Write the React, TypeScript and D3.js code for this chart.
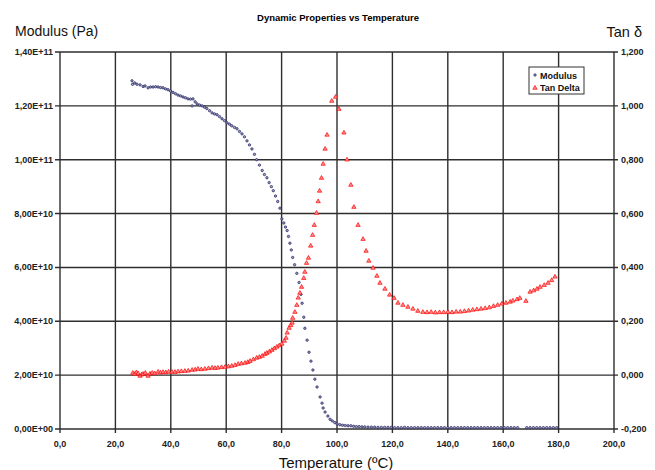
import React, { useEffect, useRef } from 'react';
import * as d3 from 'd3';

// temperature (°C), storage modulus (x 1e10 Pa)
const modulusData: [number, number][] = [
  [26.0, 12.93], [26.2, 12.8], [27.0, 12.85], [27.8, 12.8], [28.9, 12.78], [30.0, 12.72],
  [30.7, 12.74], [31.8, 12.67], [32.7, 12.7], [33.6, 12.7], [34.5, 12.71], [35.4, 12.7],
  [36.3, 12.68], [37.2, 12.67], [38.1, 12.63], [39.0, 12.6], [39.9, 12.55], [40.8, 12.5],
  [41.7, 12.45], [42.6, 12.4], [43.5, 12.37], [44.4, 12.33], [45.3, 12.3], [46.2, 12.26],
  [47.1, 12.25], [47.7, 12.0], [48.0, 12.26], [48.8, 12.15], [49.5, 12.07], [50.4, 12.03],
  [51.3, 12.0], [52.2, 11.95], [53.0, 11.9], [54.0, 11.82], [54.9, 11.74], [55.8, 11.7],
  [56.7, 11.67], [57.6, 11.6], [58.5, 11.52], [59.4, 11.45], [60.3, 11.37], [61.2, 11.32],
  [62.0, 11.26], [63.0, 11.2], [63.9, 11.15], [64.8, 11.05], [65.7, 10.96], [66.6, 10.85],
  [67.5, 10.7], [68.4, 10.55], [69.3, 10.4], [70.2, 10.2], [71.0, 10.0], [72.0, 9.8],
  [73.0, 9.6], [73.8, 9.45], [74.7, 9.33], [75.5, 9.15], [76.3, 9.0], [77.0, 8.85],
  [77.8, 8.65], [78.6, 8.45], [79.4, 8.2], [80.1, 7.8], [80.8, 7.65], [81.4, 7.5],
  [82.0, 7.37], [82.5, 7.15], [83.0, 6.9], [83.5, 6.65], [84.0, 6.37], [84.7, 6.1],
  [85.5, 5.78], [86.3, 5.44], [87.0, 5.0], [87.4, 4.67], [88.0, 4.15], [88.4, 3.74],
  [89.2, 3.3], [89.9, 2.85], [90.6, 2.52], [91.3, 2.19], [92.0, 1.85], [92.8, 1.56],
  [93.9, 1.19], [94.6, 0.96], [95.0, 0.78], [95.7, 0.63], [96.7, 0.48], [97.5, 0.36],
  [98.3, 0.3], [99.2, 0.24], [100.0, 0.19], [101.0, 0.16], [102.0, 0.14], [103.0, 0.13],
  [104.0, 0.12], [105.0, 0.12], [106.0, 0.1], [107.0, 0.09], [108.0, 0.09], [109.0, 0.08],
  [110.0, 0.08], [111.2, 0.07], [112.4, 0.07], [113.6, 0.07], [114.8, 0.06], [116.0, 0.06],
  [117.2, 0.06], [118.4, 0.06], [119.6, 0.06], [120.8, 0.05], [122.0, 0.05], [123.2, 0.05],
  [124.4, 0.06], [125.6, 0.05], [126.8, 0.05], [128.0, 0.05], [129.2, 0.05], [130.4, 0.05],
  [131.6, 0.05], [132.8, 0.05], [134.0, 0.05], [135.2, 0.05], [136.4, 0.05], [137.6, 0.05],
  [138.8, 0.05], [140.0, 0.05], [141.2, 0.05], [142.4, 0.05], [143.6, 0.05], [144.8, 0.05],
  [146.0, 0.05], [147.2, 0.05], [148.4, 0.05], [149.6, 0.05], [150.8, 0.05], [152.0, 0.05],
  [153.2, 0.05], [154.4, 0.05], [155.6, 0.05], [156.8, 0.05], [158.0, 0.05], [159.2, 0.05],
  [160.4, 0.05], [161.6, 0.05], [162.8, 0.05], [164.0, 0.05], [165.2, 0.05], [168.5, 0.05],
  [169.7, 0.05], [170.9, 0.05], [172.1, 0.05], [173.3, 0.05], [174.5, 0.05], [175.7, 0.05],
  [176.9, 0.05], [178.1, 0.05], [179.3, 0.05],
];

// temperature (°C), tan delta
const tanDeltaData: [number, number][] = [
  [26.3, 0.008], [27.0, 0.004], [27.6, 0.01], [28.2, 0.006], [28.9, -0.003], [29.5, 0.002],
  [30.0, 0.004], [30.8, 0.008], [31.8, -0.003], [32.5, 0.005], [33.3, 0.008], [34.2, 0.006],
  [35.4, 0.012], [36.3, 0.009], [37.2, 0.011], [38.2, 0.01], [39.2, 0.012], [40.4, 0.012],
  [41.5, 0.011], [42.6, 0.013], [43.8, 0.014], [45.1, 0.015], [46.3, 0.016], [47.7, 0.019],
  [48.8, 0.02], [49.8, 0.023], [51.0, 0.021], [52.3, 0.023], [53.6, 0.025], [54.9, 0.027],
  [56.0, 0.026], [57.0, 0.027], [58.3, 0.029], [59.6, 0.03], [60.8, 0.032], [62.0, 0.034],
  [63.2, 0.037], [64.3, 0.041], [65.5, 0.043], [66.8, 0.045], [67.8, 0.048], [68.6, 0.052],
  [69.8, 0.058], [71.0, 0.064], [72.0, 0.067], [73.0, 0.071], [74.0, 0.078], [74.7, 0.082],
  [75.6, 0.087], [76.5, 0.093], [77.4, 0.099], [78.3, 0.105], [79.2, 0.11], [80.1, 0.116],
  [81.0, 0.127], [81.6, 0.138], [82.0, 0.157], [82.7, 0.175], [83.3, 0.185], [83.8, 0.194],
  [84.0, 0.212], [84.8, 0.234], [85.5, 0.26], [86.0, 0.287], [86.6, 0.305], [87.2, 0.327],
  [88.0, 0.36], [88.4, 0.383], [89.0, 0.416], [89.7, 0.435], [90.5, 0.48], [91.2, 0.52],
  [91.8, 0.557], [92.6, 0.602], [93.2, 0.645], [93.7, 0.684], [94.4, 0.732], [95.0, 0.784],
  [95.7, 0.84], [96.4, 0.892], [98.1, 1.018], [99.5, 1.033], [100.7, 0.988], [102.5, 0.9],
  [103.6, 0.8], [105.0, 0.706], [106.1, 0.624], [107.6, 0.557], [109.4, 0.505], [110.5, 0.461],
  [111.5, 0.424], [113.0, 0.398], [114.4, 0.368], [115.5, 0.342], [117.3, 0.32], [119.0, 0.298],
  [120.6, 0.286], [122.0, 0.268], [123.8, 0.26], [125.6, 0.253], [127.4, 0.246], [129.2, 0.238],
  [131.0, 0.234], [132.5, 0.233], [134.0, 0.234], [135.5, 0.232], [137.0, 0.233], [138.5, 0.233],
  [140.0, 0.234], [141.5, 0.233], [143.0, 0.235], [144.5, 0.235], [146.0, 0.237], [147.5, 0.239],
  [149.0, 0.242], [150.5, 0.244], [152.0, 0.246], [153.5, 0.248], [155.0, 0.251], [156.5, 0.256],
  [158.0, 0.26], [159.5, 0.265], [161.0, 0.268], [162.5, 0.272], [163.5, 0.276], [165.0, 0.281],
  [166.0, 0.286], [168.2, 0.275], [169.7, 0.309], [171.0, 0.314], [172.2, 0.32], [173.3, 0.327],
  [174.8, 0.334], [176.2, 0.342], [177.5, 0.352], [178.7, 0.365],
];

const xTicks = [0, 20, 40, 60, 80, 100, 120, 140, 160, 180, 200];
const leftTicks = [0, 2, 4, 6, 8, 10, 12, 14]; // x 1e10
const leftTickLabels = ['0,00E+00', '2,00E+10', '4,00E+10', '6,00E+10', '8,00E+10', '1,00E+11', '1,20E+11', '1,40E+11'];
const rightTicks = [-0.2, 0, 0.2, 0.4, 0.6, 0.8, 1.0, 1.2];

const width = 655;
const height = 470;

const App = () => {
  const svgRef = useRef<SVGSVGElement>(null);

  useEffect(() => {
    if (!svgRef.current) return;
    const svg = d3.select(svgRef.current);
    svg.selectAll('*').remove();

    const margin = { top: 52, right: 41, bottom: 41, left: 60 };
    const w = width - margin.left - margin.right;
    const h = height - margin.top - margin.bottom;

    const x = d3.scaleLinear().domain([0, 200]).range([0, w]);
    const yL = d3.scaleLinear().domain([0, 14]).range([h, 0]);
    const yR = d3.scaleLinear().domain([-0.2, 1.2]).range([h, 0]);

    const g = svg.append('g').attr('transform', `translate(${margin.left},${margin.top})`);
    const grid = '#2e2e2e';
    const font = 'Liberation Sans, Arial, sans-serif';

    // gridlines (with outward tick stubs)
    g.append('g').selectAll('line').data(xTicks).join('line')
      .attr('x1', d => x(d)).attr('x2', d => x(d))
      .attr('y1', 0).attr('y2', h + 4)
      .attr('stroke', grid).attr('stroke-width', 1.4);
    g.append('g').selectAll('line').data(leftTicks).join('line')
      .attr('x1', -5).attr('x2', w + 4)
      .attr('y1', d => yL(d)).attr('y2', d => yL(d))
      .attr('stroke', grid).attr('stroke-width', 1.4);

    // tick labels
    g.append('g').selectAll('text').data(leftTicks).join('text')
      .attr('x', -7).attr('y', d => yL(d) + 3)
      .attr('text-anchor', 'end')
      .style('font', `bold 9px ${font}`).style('fill', '#222')
      .text((d, i) => leftTickLabels[i]);

    g.append('g').selectAll('text').data(rightTicks).join('text')
      .attr('x', w + 7).attr('y', d => yR(d) + 3)
      .style('font', `bold 9px ${font}`).style('fill', '#222')
      .text(d => d.toFixed(3).replace('.', ','));

    g.append('g').selectAll('text').data(xTicks).join('text')
      .attr('x', d => x(d)).attr('y', h + 18)
      .attr('text-anchor', 'middle')
      .style('font', `bold 9px ${font}`).style('fill', '#222')
      .text(d => d.toFixed(1).replace('.', ','));

    // modulus points
    g.append('g').selectAll('circle').data(modulusData).join('circle')
      .attr('cx', d => x(d[0])).attr('cy', d => yL(d[1]))
      .attr('r', 1.2)
      .attr('fill', '#a0a0c4').attr('stroke', '#1c1c5a').attr('stroke-width', 0.7);

    // tan delta points
    const tri = d3.symbol().type(d3.symbolTriangle).size(8);
    g.append('g').selectAll('path').data(tanDeltaData).join('path')
      .attr('d', tri)
      .attr('transform', d => `translate(${x(d[0])},${yR(d[1])})`)
      .attr('fill', '#ff9090').attr('stroke', '#ff0000').attr('stroke-width', 0.7);

    // titles
    svg.append('text').attr('x', 338).attr('y', 21).attr('text-anchor', 'middle')
      .style('font', `bold 9.5px ${font}`).style('fill', '#000')
      .text('Dynamic Properties vs Temperature');
    svg.append('text').attr('x', 15).attr('y', 36)
      .style('font', `14px ${font}`).style('fill', '#111')
      .text('Modulus (Pa)');
    svg.append('text').attr('x', 642).attr('y', 37).attr('text-anchor', 'end')
      .style('font', `14.5px ${font}`).style('fill', '#111')
      .text('Tan δ');
    svg.append('text').attr('x', 336).attr('y', 468).attr('text-anchor', 'middle')
      .style('font', `15px ${font}`).style('fill', '#111')
      .text('Temperature (ºC)');

    // legend
    const legend = svg.append('g').attr('transform', 'translate(529,67)');
    legend.append('rect').attr('width', 55).attr('height', 27)
      .attr('fill', '#fff').attr('stroke', '#333').attr('stroke-width', 1);
    legend.append('circle').attr('cx', 6).attr('cy', 8).attr('r', 1.2)
      .attr('fill', '#a0a0c4').attr('stroke', '#1c1c5a').attr('stroke-width', 0.7);
    legend.append('path').attr('d', tri).attr('transform', 'translate(6,21)')
      .attr('fill', '#ff9090').attr('stroke', '#ff0000').attr('stroke-width', 0.7);
    legend.append('text').attr('x', 11).attr('y', 11.5)
      .style('font', `bold 9px ${font}`).style('fill', '#111').text('Modulus');
    legend.append('text').attr('x', 11).attr('y', 24)
      .style('font', `bold 9px ${font}`).style('fill', '#111').text('Tan Delta');
  }, []);

  return (
    <svg ref={svgRef} width={width} height={height}
      style={{ position: 'absolute', left: 0, top: 0, background: '#fff' }} />
  );
};

export default App;
